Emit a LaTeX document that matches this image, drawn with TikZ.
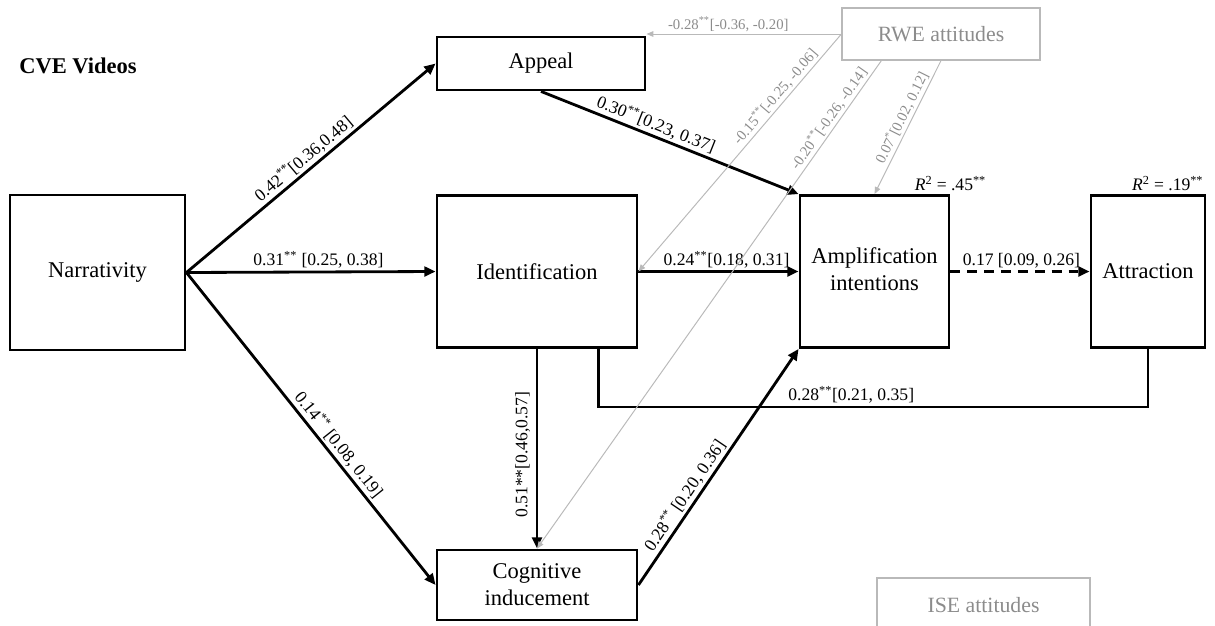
\documentclass[tikz,border=0pt]{standalone}
\usepackage{fontspec}
\setmainfont{Liberation Serif}
\usetikzlibrary{arrows.meta}
\definecolor{rwetext}{RGB}{140,140,140}
\definecolor{rweline}{RGB}{185,185,185}

\begin{document}
\begin{tikzpicture}[x=0.025cm,y=-0.025cm,
    box/.style={draw,line width=2pt,align=center,font=\fontsize{16}{19}\selectfont},
    gbox/.style={draw=rweline,line width=0.8pt,text=rwetext,font=\fontsize{15.5}{18}\selectfont},
    conn/.style={line width=2pt,-{Triangle[length=8pt,width=7pt]}},
    gconn/.style={draw=rweline,line width=0.7pt,-{Triangle[length=5pt,width=4pt]}},
    lbl/.style={font=\fontsize{12.5}{14}\selectfont,inner sep=1.5pt},
    glbl/.style={font=\fontsize{10.5}{12}\selectfont,text=rwetext,inner sep=1.5pt}]
\useasboundingbox (0,0) rectangle (1215,625);

% title
\node[font=\bfseries\fontsize{16}{18}\selectfont] (title) at (78,66) {CVE Videos};

% variables
\node[box,minimum width=4.375cm,minimum height=3.875cm] (narr) at (97.5,272.5) {Narrativity};
\node[box,minimum width=5.2cm,minimum height=1.325cm] (appeal) at (541,63.5) {Appeal};
\node[box,minimum width=5cm,minimum height=3.8cm] (ident) at (537,271.5) {Identification};
\node[box,minimum width=5cm,minimum height=1.75cm] (cogn) at (537,585) {Cognitive\\inducement};
\node[box,minimum width=3.725cm,minimum height=3.8cm,text depth=0.12cm] (ampl) at (874.5,271.5) {Amplification\\intentions};
\node[box,minimum width=2.85cm,minimum height=3.8cm] (attr) at (1148,271.5) {Attraction};

% moderators
\node[gbox,minimum width=4.95cm,minimum height=1.3cm] (rwe) at (941,34) {RWE attitudes};
\node[gbox,minimum width=5.325cm,minimum height=1.35cm] (ise) at (983.5,605) {ISE attitudes};

% R squared
\node[lbl,above,inner sep=2pt] (r2ampl) at (ampl.north east) {\textit{R}\textsuperscript{2} = .45\textsuperscript{**}};
\node[lbl,anchor=south east,inner sep=2pt] (r2attr) at (attr.north east) {\textit{R}\textsuperscript{2} = .19\textsuperscript{**}};

% paths
\draw[conn] (narr.east) -- (appeal.west) node[lbl,pos=0.5,sloped,above] {0.42\textsuperscript{**}[0.36,0.48]};
\draw[conn] (narr.east) -- (ident.west) node[lbl,pos=0.53,above] {0.31\textsuperscript{**} [0.25, 0.38]};
\draw[conn] (narr.east) -- (cogn.west) node[lbl,pos=0.575,sloped,above] {0.14\textsuperscript{**} [0.08, 0.19]};
\draw[conn] (ident.south) -- (cogn.north) node[lbl,pos=0.53,rotate=90,above,inner sep=4pt] {0.51**[0.46,0.57]};
\draw[conn] (appeal.south) -- (ampl.north west) node[lbl,pos=0.43,sloped,above] {0.30\textsuperscript{**}[0.23, 0.37]};
\draw[conn] (ident.east) -- (ampl.west) node[lbl,pos=0.55,above] {0.24\textsuperscript{**}[0.18, 0.31]};
\draw[conn] (cogn.east) -- (ampl.south west) node[lbl,pos=0.35,sloped,above] {0.28\textsuperscript{**} [0.20, 0.36]};
\draw[conn,line width=2.4pt,dash pattern=on 7pt off 5pt] (ampl.east) -- (attr.west) node[lbl,pos=0.51,above] {0.17 [0.09, 0.26]};
\draw[line width=2pt] (attr.south) -- ++(0,58) -| ([xshift=-1cm]ident.south east) node[lbl,pos=0.27,above] {0.28\textsuperscript{**}[0.21, 0.35]};

% moderation
\draw[gconn] (rwe.west) -- (rwe.west -| appeal.east) node[glbl,pos=0.58,above] {-0.28\textsuperscript{**}[-0.36, -0.20]};
\draw[gconn] (rwe.west) -- (ident.east) node[glbl,pos=0.29,sloped,above] {-0.15\textsuperscript{**}[-0.25, -0.06]};
\draw[gconn] ([xshift=1cm]rwe.south west) -- (cogn.north) node[glbl,pos=0.13,sloped,above] {-0.20\textsuperscript{**}[-0.26, -0.14]};
\draw[gconn] (rwe.south) -- (ampl.north) node[glbl,pos=0.46,sloped,above] {0.07\textsuperscript{*}[0.02, 0.12]};
\end{tikzpicture}
\end{document}
